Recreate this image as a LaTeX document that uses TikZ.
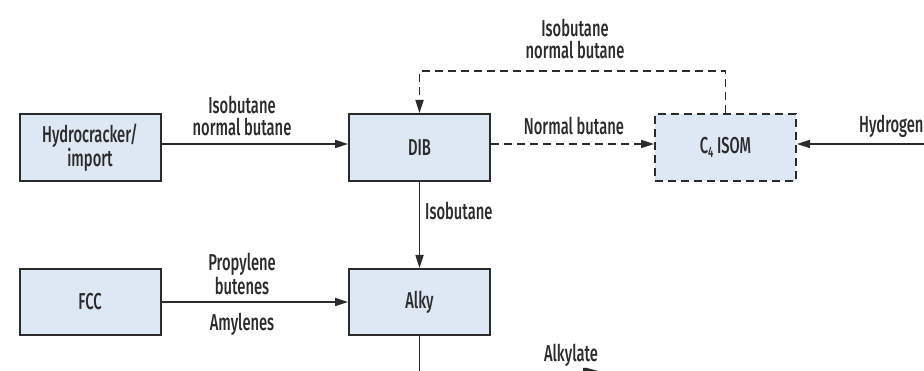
\documentclass[tikz,border=0pt]{standalone}
\usepackage{fontspec}
\setmainfont{Fira Sans}[FakeStretch=0.64,UprightFont=* Medium]
\usetikzlibrary{arrows.meta}
\definecolor{boxfill}{HTML}{DEE8F5}
\definecolor{ink}{HTML}{2B2B2B}
\tikzset{
  x=1pt,y=1pt,
  unit/.style={draw=ink,line width=2pt,fill=boxfill,minimum width=141pt,minimum height=67pt,inner sep=0pt,font=\fontsize{23}{22}\selectfont,text=ink,align=center},
  dunit/.style={unit,dash pattern=on 8pt off 5pt},
  flow/.style={draw=ink,line width=1.7pt,-{Triangle[length=13pt,width=8pt]}},
  dflow/.style={flow,dash pattern=on 8pt off 5pt},
  lab/.style={font=\fontsize{23}{22}\selectfont,text=ink,align=center,inner sep=0pt}
}
\begin{document}
\begin{tikzpicture}
\useasboundingbox (0,0) rectangle (924,371);
\clip (0,0) rectangle (924,371);
\node[unit] (hc) at (90,223.5) {Hydrocracker/\\import};
\node[unit] (dib) at (419.5,223.5) {DIB};
\node[dunit] (isom) at (725.5,223.5) {C\raisebox{-4pt}{\fontsize{15}{15}\selectfont 4} ISOM};
\node[unit,minimum height=66pt] (fcc) at (90,69) {FCC};
\node[unit,minimum height=66pt] (alky) at (419.5,69) {Alky};
\coordinate (h2) at (925,227);
\coordinate (out) at (419.5,-2);
\coordinate (tl) at (419.5,300);
\coordinate (tr) at (725.5,300);
\draw[flow] ([yshift=3.5pt]hc.east) -- ([yshift=3.5pt]dib.west);
\draw[dflow] ([yshift=3.5pt]dib.east) -- ([yshift=3.5pt]isom.west);
\draw[flow] (h2) -- (h2 -| isom.east);
\draw[dflow] (isom.north) -- (tr) -- (tl) -- (dib.north);
\draw[flow] (dib.south) -- (alky.north);
\draw[flow] (fcc.east) -- (alky.west);
\draw[draw=ink,line width=1.7pt] (alky.south) -- (out);
\node[lab] (l1) at (575,332) {Isobutane\\normal butane};
\node[lab] (l2) at (242,255) {Isobutane\\normal butane};
\node[lab] (l3) at (574,245) {Normal butane};
\node[lab,anchor=west] (l4) at (425,160) {Isobutane};
\node[lab] (l5) at (242,97) {Propylene\\butenes};
\node[lab] (l6) at (242,47) {Amylenes};
\node[lab,anchor=west] (l7) at (859,245) {Hydrogen};
\node[lab] (l8) at (571,16) {Alkylate};
\fill[ink] (583,3) -- (587,3) -- (598,0) -- (583,0) -- cycle;
\end{tikzpicture}
\end{document}
